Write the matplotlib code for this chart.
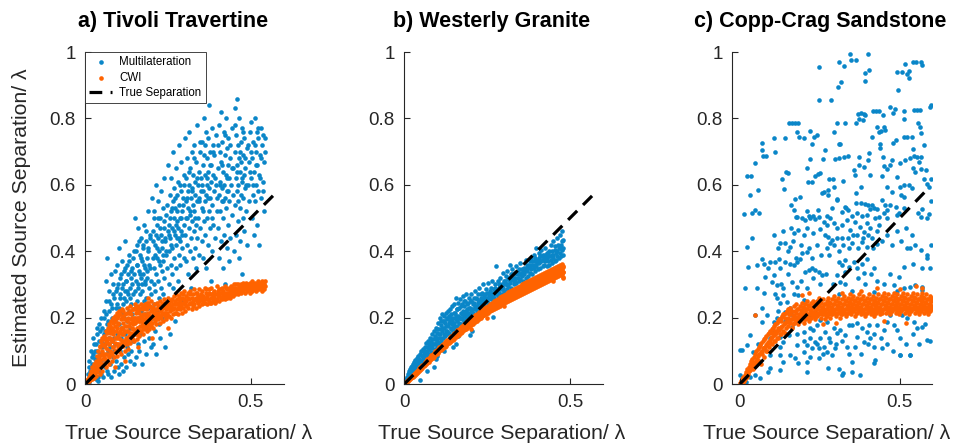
import numpy as np
import matplotlib
matplotlib.use('Agg')
import matplotlib.pyplot as plt

plt.rcParams['font.family'] = ['Liberation Sans', 'DejaVu Sans']

BLUE = '#0a86c8'
ORANGE = '#ff6300'
GREY = '#262626'

titles = ['a) Tivoli Travertine', 'b) Westerly Granite', 'c) Copp-Crag Sandstone']
series_names = ['Multilateration', 'CWI', 'True Separation']
xlabel = 'True Source Separation/ \u03bb'
ylabel = 'Estimated Source Separation/ \u03bb'
xticks = [0, 0.5]
xticklabels = ['0', '0.5']
yticks = [0, 0.2, 0.4, 0.6, 0.8, 1.0]
yticklabels = ['0', '0.2', '0.4', '0.6', '0.8', '1']
true_sep = [0, 0.58]

# (true, estimated) separations, Tivoli travertine
tivoli_multi = [
    (.005, .01), (.008, .03), (.012, .005), (.015, .04), (.018, .02), (.02, .06), (.022, .09), (.025, .03),
    (.027, .12), (.03, .05), (.031, .015), (.033, .08), (.035, .1), (.037, .02), (.038, .06), (.04, .13),
    (.041, .04), (.043, .09), (.045, .16), (.046, .07), (.048, .03), (.049, .11), (.01, .07), (.016, .1),
    (.024, .14), (.034, .17), (.044, .05), (.039, .01), (.028, .075), (.047, .13),
    (.052, .02), (.053, .09), (.055, .15), (.056, .2), (.058, .05), (.06, .12), (.061, .25), (.063, .07),
    (.064, .18), (.066, .38), (.067, .1), (.068, .03), (.07, .22), (.071, .14), (.072, .28), (.074, .06),
    (.075, .17), (.076, .11), (.078, .24), (.079, .02), (.08, .2), (.081, .13), (.083, .3), (.084, .08),
    (.085, .16), (.087, .26), (.088, .04), (.089, .19), (.09, .34), (.091, .12), (.093, .23), (.094, .07),
    (.095, .29), (.096, .15), (.098, .21), (.099, .05), (.062, .31), (.077, .33), (.086, .1), (.097, .36),
    (.101, .41), (.102, .03), (.103, .18), (.104, .26), (.105, .1), (.106, .32), (.107, .14), (.108, .22),
    (.109, .06), (.11, .37), (.111, .29), (.112, .17), (.113, .04), (.114, .24), (.115, .12), (.116, .34),
    (.117, .2), (.118, .08), (.119, .28), (.12, .43), (.121, .15), (.122, .31), (.123, .05), (.124, .25),
    (.125, .11), (.126, .36), (.127, .19), (.128, .27), (.129, .09), (.13, .33), (.131, .22), (.132, .14),
    (.133, .39), (.134, .07), (.135, .29), (.136, .17), (.137, .24), (.138, .32), (.139, .1), (.14, .21),
    (.142, .35), (.143, .13), (.145, .27), (.146, .4), (.148, .06), (.149, .23),
    (.151, .5), (.152, .16), (.153, .31), (.154, .08), (.155, .42), (.156, .25), (.157, .36), (.158, .12),
    (.159, .29), (.16, .47), (.161, .2), (.162, .34), (.163, .1), (.164, .39), (.165, .27), (.166, .15),
    (.167, .44), (.168, .32), (.169, .22), (.17, .06), (.171, .37), (.172, .28), (.173, .18), (.174, .41),
    (.175, .33), (.176, .13), (.177, .25), (.178, .48), (.179, .35), (.18, .21), (.181, .3), (.182, .09),
    (.183, .43), (.184, .26), (.185, .38), (.186, .17), (.187, .32), (.188, .52), (.189, .23), (.19, .4),
    (.192, .14), (.193, .29), (.195, .45), (.196, .35), (.198, .11), (.199, .27),
    (.201, .56), (.202, .2), (.203, .38), (.204, .12), (.205, .46), (.206, .3), (.207, .24), (.208, .52),
    (.209, .35), (.21, .16), (.211, .42), (.212, .28), (.213, .6), (.214, .33), (.215, .09), (.216, .48),
    (.217, .38), (.218, .22), (.219, .44), (.22, .31), (.221, .55), (.222, .18), (.223, .4), (.224, .26),
    (.225, .5), (.226, .36), (.227, .14), (.228, .45), (.229, .29), (.23, .58), (.231, .34), (.232, .41),
    (.233, .2), (.234, .53), (.235, .37), (.236, .27), (.237, .47), (.238, .32), (.239, .62), (.24, .43),
    (.242, .11), (.243, .39), (.245, .51), (.246, .24), (.248, .35), (.249, .46),
    (.251, .66), (.252, .3), (.253, .48), (.254, .4), (.255, .57), (.256, .15), (.257, .44), (.258, .36),
    (.259, .52), (.26, .62), (.261, .33), (.262, .47), (.263, .41), (.264, .7), (.265, .55), (.266, .29),
    (.267, .5), (.268, .38), (.269, .59), (.27, .45), (.271, .19), (.272, .53), (.273, .42), (.274, .65),
    (.275, .35), (.276, .49), (.277, .57), (.278, .44), (.279, .31), (.28, .61), (.281, .47), (.282, .39),
    (.283, .54), (.284, .72), (.285, .43), (.286, .5), (.287, .36), (.288, .58), (.289, .46), (.29, .67),
    (.291, .41), (.292, .52), (.294, .25), (.295, .56), (.297, .48), (.298, .63), (.299, .38),
    (.301, .74), (.302, .45), (.303, .55), (.304, .37), (.305, .62), (.306, .5), (.307, .42), (.308, .68),
    (.309, .58), (.31, .33), (.311, .53), (.312, .47), (.313, .76), (.314, .6), (.315, .4), (.316, .51),
    (.317, .65), (.318, .44), (.319, .56), (.32, .29), (.321, .7), (.322, .49), (.323, .59), (.324, .38),
    (.325, .54), (.326, .63), (.327, .46), (.328, .72), (.329, .52), (.33, .41), (.331, .61), (.332, .57),
    (.333, .35), (.334, .67), (.335, .48), (.336, .55), (.337, .44), (.338, .78), (.339, .6), (.34, .5),
    (.342, .64), (.343, .39), (.345, .56), (.346, .7), (.348, .47), (.349, .58),
    (.351, .62), (.352, .43), (.353, .73), (.354, .53), (.355, .66), (.356, .38), (.357, .58), (.358, .8),
    (.359, .49), (.36, .69), (.361, .55), (.362, .45), (.363, .63), (.364, .76), (.365, .35), (.366, .57),
    (.367, .68), (.368, .5), (.369, .6), (.37, .42), (.371, .74), (.372, .64), (.373, .52), (.374, .84),
    (.375, .59), (.376, .47), (.377, .7), (.378, .56), (.379, .31), (.38, .66), (.381, .61), (.382, .77),
    (.383, .4), (.384, .54), (.385, .72), (.386, .63), (.387, .48), (.388, .58), (.39, .69), (.392, .44),
    (.394, .75), (.396, .6), (.398, .52),
    (.401, .65), (.402, .47), (.403, .78), (.404, .57), (.405, .38), (.406, .7), (.407, .61), (.408, .52),
    (.409, .82), (.41, .67), (.411, .43), (.412, .59), (.413, .73), (.414, .55), (.415, .35), (.416, .64),
    (.417, .5), (.418, .76), (.419, .6), (.42, .45), (.421, .69), (.422, .56), (.423, .3), (.424, .63),
    (.425, .8), (.426, .53), (.427, .71), (.428, .41), (.429, .58), (.43, .66), (.431, .48), (.432, .74),
    (.433, .62), (.434, .37), (.435, .55), (.436, .68), (.438, .44), (.44, .6), (.442, .77), (.444, .51),
    (.446, .65), (.448, .4),
    (.451, .7), (.452, .54), (.453, .83), (.454, .62), (.455, .45), (.456, .75), (.457, .58), (.458, .86),
    (.459, .66), (.46, .49), (.461, .72), (.462, .6), (.463, .38), (.464, .68), (.465, .8), (.466, .53),
    (.467, .64), (.468, .43), (.469, .73), (.47, .57), (.471, .67), (.472, .33), (.473, .61), (.474, .77),
    (.475, .5), (.476, .69), (.477, .56), (.478, .63), (.479, .46), (.48, .74), (.482, .59), (.484, .65),
    (.486, .52), (.488, .71), (.49, .42), (.492, .6), (.494, .67), (.496, .55), (.498, .76),
    (.501, .62), (.502, .79), (.503, .5), (.505, .68), (.506, .57), (.508, .73), (.509, .45), (.51, .64),
    (.512, .8), (.513, .55), (.515, .7), (.516, .6), (.518, .76), (.519, .48), (.52, .66), (.522, .58),
    (.523, .74), (.525, .63), (.526, .42), (.528, .69), (.53, .77), (.532, .56), (.534, .72), (.536, .61),
    (.538, .75), (.54, .67), (.541, .52), (.543, .7),
    # denser core of the cloud
    (.012, .05), (.019, .08), (.023, .05), (.029, .1), (.032, .12), (.036, .15), (.042, .18), (.046, .2),
    (.05, .17), (.054, .12), (.057, .22), (.059, .16), (.062, .21), (.065, .04), (.069, .19), (.073, .25),
    (.077, .09), (.082, .23), (.085, .27), (.088, .14), (.092, .28), (.096, .24), (.099, .3),
    (.102, .23), (.106, .27), (.109, .33), (.112, .21), (.115, .3), (.118, .26), (.121, .35), (.124, .31),
    (.127, .28), (.131, .37), (.134, .26), (.137, .34), (.141, .3), (.144, .38), (.147, .33), (.15, .28),
    (.152, .4), (.155, .36), (.158, .3), (.161, .43), (.164, .33), (.167, .38), (.17, .3), (.173, .42),
    (.176, .36), (.179, .31), (.182, .46), (.185, .34), (.188, .41), (.191, .36), (.194, .44), (.197, .31),
    (.203, .43), (.206, .5), (.21, .39), (.213, .45), (.217, .41), (.22, .5), (.224, .37), (.227, .47),
    (.231, .43), (.234, .39), (.238, .49), (.241, .44), (.245, .4), (.248, .54), (.252, .45), (.256, .5),
    (.26, .42), (.263, .53), (.267, .46), (.27, .56), (.274, .48), (.278, .52), (.282, .44), (.285, .6),
    (.289, .5), (.293, .45), (.296, .54), (.299, .6),
    (.303, .5), (.308, .56), (.312, .64), (.317, .52), (.322, .58), (.327, .68), (.332, .5), (.337, .62),
    (.342, .55), (.347, .73), (.352, .6), (.357, .52), (.362, .72), (.367, .62), (.372, .56), (.377, .66),
    (.382, .5), (.387, .7), (.392, .62), (.397, .56), (.402, .72), (.407, .6), (.412, .66), (.417, .55),
    (.422, .75), (.427, .62), (.432, .58), (.437, .72), (.442, .65), (.447, .57), (.452, .78), (.457, .64),
    (.462, .55), (.467, .7), (.472, .62), (.477, .76), (.482, .68), (.487, .6), (.492, .72), (.497, .64),
    (.502, .7), (.507, .6), (.512, .72), (.517, .66), (.522, .77), (.527, .62), (.532, .68), (.537, .58),
    (.542, .74),
]

tivoli_cwi = [
    (.002, .003), (.004, .008), (.006, .002), (.006, .012), (.009, .015), (.009, .005), (.011, .02), (.011, .009),
    (.013, .025), (.015, .012), (.015, .03), (.017, .022), (.017, .04), (.019, .015), (.021, .035), (.021, .05),
    (.023, .026), (.025, .045), (.025, .018), (.027, .06), (.027, .033), (.029, .04), (.031, .07), (.031, .025),
    (.033, .052), (.035, .085), (.035, .036), (.037, .063), (.039, .1), (.039, .045), (.041, .074), (.043, .03),
    (.043, .115), (.045, .088), (.047, .055), (.047, .13), (.049, .1), (.051, .04), (.051, .14), (.053, .075),
    (.055, .118), (.055, .06), (.057, .145), (.059, .09), (.061, .05), (.061, .16), (.063, .128), (.065, .07),
    (.065, .105), (.067, .17), (.069, .14), (.071, .085), (.071, .06), (.073, .18), (.073, .12), (.075, .155),
    (.077, .095), (.079, .19), (.079, .135), (.081, .07), (.081, .165), (.083, .11), (.085, .2), (.085, .15),
    (.087, .08), (.089, .175), (.089, .125), (.091, .205), (.093, .1), (.093, .16), (.095, .14), (.097, .215),
    (.097, .085), (.099, .185), (.099, .12), (.101, .155), (.103, .22), (.103, .1), (.105, .135), (.107, .195),
    (.107, .17), (.109, .09), (.111, .225), (.111, .15), (.113, .115), (.115, .185), (.115, .205), (.117, .13),
    (.117, .16), (.119, .1), (.121, .21), (.121, .175), (.123, .14), (.125, .23), (.125, .12), (.127, .19),
    (.127, .16), (.129, .105), (.131, .215), (.131, .145), (.133, .175), (.135, .235), (.135, .125), (.137, .195),
    (.139, .155), (.139, .21), (.141, .135), (.143, .18), (.143, .225), (.145, .165), (.147, .2), (.147, .13),
    (.149, .24), (.151, .15), (.151, .185), (.153, .215), (.155, .17), (.155, .135), (.157, .2), (.159, .23),
    (.159, .155), (.161, .19), (.163, .145), (.163, .215), (.165, .175), (.167, .205), (.167, .24), (.169, .16),
    (.171, .19), (.173, .225), (.173, .15), (.175, .18), (.175, .21), (.177, .165), (.179, .235), (.179, .195),
    (.181, .17), (.183, .205), (.183, .225), (.185, .16), (.185, .19), (.187, .245), (.189, .18), (.189, .215),
    (.191, .2), (.193, .165), (.193, .235), (.195, .19), (.197, .22), (.197, .175), (.199, .205), (.199, .25),
    (.202, .185), (.202, .23), (.205, .2), (.205, .17), (.208, .24), (.208, .215), (.211, .19), (.211, .225),
    (.214, .205), (.214, .18), (.217, .245), (.217, .225), (.22, .195), (.22, .215), (.223, .235), (.223, .205),
    (.226, .185), (.226, .25), (.229, .22), (.229, .2), (.232, .24), (.232, .21), (.235, .19), (.235, .23),
    (.238, .255), (.238, .215), (.241, .205), (.241, .235), (.244, .225), (.244, .195), (.247, .245), (.247, .215),
    (.25, .23), (.25, .26), (.253, .205), (.253, .24), (.256, .22), (.256, .25), (.259, .2), (.259, .235),
    (.262, .255), (.262, .225), (.265, .24), (.265, .21), (.268, .265), (.268, .23), (.271, .215), (.271, .25),
    (.274, .24), (.274, .27), (.277, .225), (.277, .255), (.28, .21), (.28, .245), (.283, .265), (.283, .235),
    (.286, .25), (.286, .225), (.289, .275), (.289, .24), (.292, .215), (.292, .26), (.295, .245), (.295, .23),
    (.298, .28), (.298, .255), (.301, .24), (.301, .22), (.305, .265), (.305, .25), (.309, .23), (.309, .275),
    (.313, .255), (.313, .24), (.317, .28), (.317, .245), (.321, .225), (.321, .26), (.325, .27), (.325, .25),
    (.329, .24), (.329, .285), (.333, .26), (.333, .23), (.337, .275), (.337, .25), (.341, .245), (.341, .265),
    (.345, .285), (.345, .235), (.349, .255), (.349, .27), (.353, .24), (.353, .28), (.357, .265), (.357, .25),
    (.361, .29), (.361, .245), (.365, .255), (.365, .275), (.369, .24), (.369, .265), (.373, .285), (.373, .25),
    (.377, .27), (.377, .245), (.381, .26), (.381, .29), (.385, .25), (.385, .275), (.389, .28), (.389, .26),
    (.393, .245), (.393, .27), (.397, .295), (.397, .255), (.401, .265), (.401, .28), (.405, .25), (.405, .285),
    (.409, .275), (.409, .26), (.413, .29), (.413, .255), (.417, .265), (.417, .28), (.421, .255), (.421, .295),
    (.425, .275), (.425, .265), (.429, .285), (.429, .26), (.433, .27), (.433, .29), (.437, .26), (.437, .28),
    (.441, .295), (.441, .27), (.445, .265), (.445, .285), (.449, .28), (.449, .3), (.453, .27), (.453, .29),
    (.457, .285), (.457, .275), (.461, .3), (.461, .27), (.465, .28), (.465, .29), (.469, .275), (.469, .3),
    (.473, .29), (.473, .28), (.477, .305), (.477, .285), (.481, .275), (.481, .295), (.485, .29), (.485, .305),
    (.489, .28), (.489, .3), (.493, .295), (.493, .285), (.497, .305), (.497, .275), (.501, .29), (.501, .3),
    (.505, .28), (.505, .31), (.509, .295), (.509, .285), (.513, .305), (.513, .29), (.517, .28), (.517, .3),
    (.521, .295), (.521, .31), (.525, .285), (.525, .305), (.529, .3), (.529, .29), (.533, .31), (.533, .28),
    (.537, .295), (.537, .305), (.541, .285), (.541, .3), (.544, .31), (.544, .295),
    (.09, .05), (.12, .07), (.16, .11), (.2, .14), (.25, .17), (.19, .26),
    # fill of the band
    (.02, .03), (.025, .04), (.03, .045), (.03, .06), (.035, .055), (.04, .05), (.04, .08), (.045, .07),
    (.045, .11), (.05, .06), (.05, .09), (.05, .12), (.055, .08), (.055, .135), (.06, .075), (.06, .11),
    (.06, .14), (.065, .09), (.065, .13), (.065, .155), (.07, .08), (.07, .12), (.07, .16), (.075, .1),
    (.075, .14), (.075, .175), (.08, .09), (.08, .13), (.08, .17), (.085, .11), (.085, .16), (.085, .185),
    (.09, .1), (.09, .14), (.09, .19), (.095, .12), (.095, .17), (.095, .2), (.1, .11), (.1, .145),
    (.1, .18), (.1, .205), (.105, .12), (.105, .16), (.105, .21), (.11, .13), (.11, .17), (.11, .2),
    (.115, .12), (.115, .15), (.115, .22), (.12, .13), (.12, .16), (.12, .195), (.125, .14), (.125, .175),
    (.125, .215), (.13, .13), (.13, .16), (.13, .2), (.135, .15), (.135, .185), (.135, .22), (.14, .14),
    (.14, .17), (.14, .2), (.145, .15), (.145, .19), (.145, .225), (.15, .16), (.15, .2), (.15, .23),
    (.155, .15), (.155, .19), (.155, .22), (.16, .17), (.16, .2), (.16, .235), (.165, .16), (.165, .19),
    (.165, .225), (.17, .175), (.17, .2), (.17, .23), (.175, .17), (.175, .195), (.175, .235), (.18, .18),
    (.18, .21), (.18, .24), (.185, .175), (.185, .2), (.185, .23), (.19, .185), (.19, .21), (.19, .245),
    (.195, .18), (.195, .205), (.195, .235),
    (.2, .22), (.205, .23), (.21, .2), (.215, .215), (.22, .235), (.225, .205), (.23, .225), (.235, .245),
    (.24, .215), (.245, .235), (.25, .205), (.255, .23), (.26, .25), (.265, .225), (.27, .24), (.275, .215),
    (.28, .23), (.285, .255), (.29, .235), (.295, .27), (.3, .25), (.305, .235), (.31, .26), (.315, .27),
    (.32, .245), (.325, .235), (.33, .255), (.335, .275), (.34, .255), (.345, .25), (.35, .265), (.355, .245),
    (.36, .26), (.365, .285), (.37, .255), (.375, .275), (.38, .245), (.385, .265), (.39, .27), (.395, .25),
    (.4, .275), (.405, .265), (.41, .285), (.415, .27), (.42, .265), (.425, .29), (.43, .275), (.435, .265),
    (.44, .28), (.445, .29), (.45, .275), (.455, .3), (.46, .28), (.465, .295), (.47, .285), (.475, .295),
    (.48, .285), (.485, .3), (.49, .29), (.495, .295), (.5, .28), (.505, .295), (.51, .3), (.515, .295),
    (.52, .285), (.525, .295), (.53, .3), (.535, .29), (.54, .295),
]

# Westerly granite
westerly_multi = [
    (.003, .006), (.006, .015), (.006, .004), (.009, .02), (.012, .03), (.012, .012), (.015, .025), (.015, .04),
    (.018, .045), (.018, .02), (.021, .035), (.021, .05), (.024, .055), (.024, .028), (.027, .045), (.027, .06),
    (.03, .065), (.03, .035), (.033, .05), (.033, .072), (.036, .06), (.036, .04), (.039, .078), (.039, .052),
    (.042, .065), (.042, .085), (.045, .05), (.045, .075), (.048, .09), (.048, .062), (.051, .07), (.051, .1),
    (.054, .083), (.054, .058), (.057, .105), (.057, .075), (.06, .09), (.06, .065), (.063, .112), (.063, .08),
    (.066, .097), (.066, .125), (.069, .075), (.069, .11), (.072, .13), (.072, .09), (.075, .105), (.075, .082),
    (.078, .14), (.078, .118), (.081, .095), (.081, .128), (.084, .15), (.084, .108), (.087, .12), (.087, .092),
    (.09, .16), (.09, .135), (.093, .105), (.093, .145), (.096, .17), (.096, .125), (.099, .115), (.099, .155),
    (.102, .185), (.102, .14), (.105, .125), (.105, .165), (.108, .2), (.108, .15), (.111, .13), (.111, .178),
    (.114, .16), (.114, .21), (.117, .14), (.117, .19), (.12, .205), (.12, .168), (.123, .145), (.123, .185),
    (.126, .215), (.126, .16), (.129, .195), (.129, .15), (.132, .175), (.132, .22), (.135, .155), (.135, .205),
    (.138, .19), (.138, .225), (.141, .165), (.141, .21), (.144, .235), (.144, .18), (.147, .16), (.147, .2),
    (.15, .24), (.15, .185), (.153, .215), (.153, .17), (.156, .26), (.156, .195), (.159, .175), (.159, .225),
    (.162, .205), (.162, .245), (.165, .185), (.165, .23), (.168, .255), (.168, .2), (.171, .18), (.171, .215),
    (.174, .24), (.174, .195), (.177, .265), (.177, .22), (.18, .19), (.18, .235), (.183, .21), (.183, .25),
    (.186, .2), (.186, .27), (.189, .225), (.189, .195), (.192, .245), (.192, .215), (.195, .26), (.195, .205),
    (.198, .23), (.198, .21), (.202, .27), (.202, .25), (.206, .215), (.206, .24), (.21, .26), (.21, .225),
    (.214, .28), (.214, .235), (.218, .22), (.218, .255), (.222, .245), (.222, .27), (.226, .23), (.226, .29),
    (.23, .26), (.23, .24), (.234, .275), (.234, .235), (.238, .25), (.238, .3), (.242, .24), (.242, .265),
    (.246, .285), (.246, .25), (.25, .26), (.25, .275), (.254, .305), (.254, .245), (.258, .27), (.258, .26),
    (.262, .29), (.262, .255), (.266, .275), (.266, .31), (.27, .26), (.27, .285), (.274, .3), (.274, .27),
    (.278, .355), (.278, .28), (.282, .265), (.282, .31), (.286, .29), (.286, .275), (.29, .32), (.29, .285),
    (.294, .3), (.294, .27), (.298, .335), (.298, .29), (.302, .28), (.302, .31), (.306, .3), (.306, .325),
    (.31, .285), (.31, .34), (.314, .315), (.314, .295), (.318, .36), (.318, .305), (.322, .29), (.322, .33),
    (.326, .315), (.326, .345), (.33, .3), (.33, .32), (.334, .335), (.334, .31), (.338, .355), (.338, .305),
    (.342, .32), (.342, .34), (.346, .31), (.346, .33), (.35, .365), (.35, .315), (.354, .325), (.354, .345),
    (.358, .31), (.358, .34), (.362, .35), (.362, .33), (.366, .375), (.366, .32), (.37, .34), (.37, .36),
    (.374, .325), (.374, .35), (.378, .37), (.378, .335), (.382, .345), (.382, .38), (.386, .33), (.386, .36),
    (.39, .39), (.39, .35), (.394, .34), (.394, .37), (.398, .41), (.398, .355), (.402, .345), (.402, .375),
    (.406, .365), (.406, .395), (.41, .35), (.41, .385), (.414, .37), (.414, .405), (.418, .355), (.418, .39),
    (.422, .38), (.422, .36), (.426, .41), (.426, .37), (.43, .355), (.43, .395), (.434, .385), (.434, .37),
    (.438, .4), (.438, .36), (.442, .375), (.442, .42), (.446, .39), (.446, .365), (.45, .43), (.45, .38),
    (.454, .37), (.454, .405), (.458, .395), (.458, .375), (.462, .44), (.462, .385), (.466, .38), (.466, .41),
    (.47, .45), (.47, .395), (.474, .385), (.474, .42), (.477, .46), (.477, .405), (.48, .435), (.48, .39),
    (.047, .012), (.09, .052), (.095, .075), (.1, .085), (.148, .112), (.155, .12), (.163, .145), (.198, .148),
    (.205, .16), (.269, .203), (.309, .258), (.12, .1), (.07, .04),
    # fill of the wedge
    (.015, .032), (.025, .042), (.035, .052), (.045, .064), (.055, .07), (.06, .1), (.065, .085), (.07, .1),
    (.075, .12), (.08, .11), (.085, .135), (.09, .12), (.095, .14), (.1, .13), (.1, .165), (.105, .15),
    (.11, .14), (.11, .19), (.115, .17), (.12, .15), (.12, .19), (.125, .175), (.13, .16), (.13, .2),
    (.135, .185), (.14, .17), (.14, .2), (.145, .19), (.15, .175), (.15, .215), (.155, .205), (.16, .19),
    (.16, .225), (.165, .2), (.17, .2), (.17, .235), (.175, .21), (.18, .205), (.18, .25), (.185, .22),
    (.19, .21), (.19, .24), (.195, .23), (.2, .22), (.2, .25), (.205, .225), (.21, .245), (.215, .23),
    (.215, .26), (.22, .235), (.225, .25), (.23, .245), (.23, .27), (.235, .25), (.24, .255), (.245, .27),
    (.25, .25), (.255, .265), (.26, .28), (.265, .265), (.27, .275), (.275, .29), (.28, .28), (.285, .3),
    (.29, .295), (.295, .285), (.3, .3), (.305, .31), (.31, .3), (.315, .32), (.32, .31), (.325, .33),
    (.33, .31), (.335, .32), (.34, .33), (.345, .345), (.35, .33), (.355, .335), (.36, .345), (.365, .34),
    (.37, .35), (.375, .36), (.38, .355), (.385, .37), (.39, .36), (.395, .38), (.4, .365), (.405, .38),
    (.41, .37), (.415, .385), (.42, .375), (.425, .39), (.43, .38), (.435, .395), (.44, .385), (.445, .4),
    (.45, .39), (.455, .415), (.46, .4), (.465, .42), (.47, .41), (.475, .43), (.48, .41),
]

westerly_cwi = [
    (.002, .002), (.005, .006), (.005, .003), (.008, .009), (.008, .005), (.011, .012), (.011, .008), (.014, .015),
    (.014, .011), (.017, .018), (.017, .014), (.02, .022), (.02, .017), (.023, .025), (.023, .02), (.026, .028),
    (.026, .022), (.029, .031), (.029, .025), (.032, .034), (.032, .028), (.035, .037), (.035, .031), (.038, .04),
    (.038, .034), (.041, .043), (.041, .036), (.044, .047), (.044, .039), (.047, .05), (.047, .042), (.05, .053),
    (.05, .045), (.054, .057), (.054, .049), (.058, .061), (.058, .053), (.062, .066), (.062, .056), (.066, .07),
    (.066, .06), (.07, .074), (.07, .064), (.074, .078), (.074, .067), (.078, .082), (.078, .071), (.082, .086),
    (.082, .075), (.086, .09), (.086, .079), (.09, .094), (.09, .082), (.094, .098), (.094, .086), (.098, .102),
    (.098, .09), (.102, .106), (.102, .094), (.106, .11), (.106, .098), (.11, .114), (.11, .101), (.114, .118),
    (.114, .105), (.118, .122), (.118, .109), (.122, .126), (.122, .112), (.126, .13), (.126, .116), (.13, .134),
    (.13, .12), (.134, .137), (.134, .123), (.138, .141), (.138, .127), (.142, .145), (.142, .13), (.146, .149),
    (.146, .134), (.15, .153), (.15, .137),
    (.155, .158), (.155, .149), (.155, .141), (.16, .163), (.16, .154), (.16, .145), (.165, .167), (.165, .158),
    (.165, .149), (.17, .172), (.17, .163), (.17, .154), (.175, .176), (.175, .167), (.175, .158), (.18, .181),
    (.18, .172), (.18, .162), (.185, .185), (.185, .176), (.185, .166), (.19, .189), (.19, .18), (.19, .17),
    (.195, .193), (.195, .184), (.195, .174), (.2, .197), (.2, .188), (.2, .178), (.206, .202), (.206, .192),
    (.206, .182), (.212, .207), (.212, .197), (.212, .187), (.218, .211), (.218, .201), (.218, .191), (.224, .216),
    (.224, .206), (.224, .196), (.23, .22), (.23, .21), (.23, .2), (.236, .224), (.236, .214), (.236, .204),
    (.242, .228), (.242, .218), (.242, .207), (.248, .232), (.248, .222), (.248, .211), (.254, .236), (.254, .226),
    (.254, .215), (.26, .241), (.26, .23), (.26, .219), (.266, .245), (.266, .234), (.266, .222), (.272, .249),
    (.272, .237), (.272, .226), (.278, .253), (.278, .241), (.278, .229), (.284, .257), (.284, .245), (.284, .233),
    (.29, .261), (.29, .249), (.29, .236), (.296, .265), (.296, .252), (.296, .24), (.302, .269), (.302, .256),
    (.302, .243), (.308, .272), (.308, .259), (.308, .246), (.314, .276), (.314, .263), (.314, .25), (.32, .279),
    (.32, .266), (.32, .253), (.326, .283), (.326, .269), (.326, .256), (.332, .286), (.332, .272), (.332, .259),
    (.338, .29), (.338, .276), (.338, .262), (.344, .293), (.344, .279), (.344, .265), (.35, .296), (.35, .282),
    (.35, .268), (.356, .3), (.356, .285), (.356, .271), (.362, .303), (.362, .288), (.362, .274), (.368, .306),
    (.368, .291), (.368, .277), (.374, .309), (.374, .294), (.374, .28), (.38, .313), (.38, .298), (.38, .283),
    (.386, .316), (.386, .301), (.386, .286), (.392, .319), (.392, .304), (.392, .289), (.398, .322), (.398, .307),
    (.398, .292), (.404, .325), (.404, .31), (.404, .295), (.41, .328), (.41, .312), (.41, .297), (.416, .331),
    (.416, .315), (.416, .3), (.422, .334), (.422, .318), (.422, .303), (.428, .337), (.428, .321), (.428, .306),
    (.434, .34), (.434, .324), (.434, .309), (.44, .343), (.44, .327), (.44, .312), (.446, .346), (.446, .33),
    (.446, .315), (.452, .349), (.452, .333), (.452, .318), (.458, .352), (.458, .336), (.458, .321), (.464, .355),
    (.464, .339), (.464, .324), (.47, .358), (.47, .342), (.47, .327), (.476, .361), (.476, .345), (.476, .33),
    (.48, .355), (.48, .338), (.48, .322),
    (.2, .165), (.3, .235), (.25, .2), (.45, .31), (.478, .318),
    (.158, .154), (.158, .145), (.163, .159), (.163, .15), (.168, .163), (.168, .154), (.173, .168), (.173, .159),
    (.178, .172), (.178, .163), (.183, .177), (.183, .167), (.188, .181), (.188, .171), (.193, .185), (.193, .175),
    (.198, .189), (.198, .179), (.203, .193), (.203, .183), (.209, .197), (.209, .187), (.215, .202), (.215, .192),
    (.221, .206), (.221, .196), (.227, .211), (.227, .201), (.233, .215), (.233, .205), (.239, .219), (.239, .209),
    (.245, .223), (.245, .213), (.251, .227), (.251, .216), (.257, .231), (.257, .22), (.263, .235), (.263, .224),
    (.269, .239), (.269, .228), (.275, .243), (.275, .231), (.281, .247), (.281, .235), (.287, .251), (.287, .239),
    (.293, .255), (.293, .242), (.299, .258), (.299, .246), (.305, .262), (.305, .249), (.311, .265), (.311, .252),
    (.317, .269), (.317, .256), (.323, .272), (.323, .259), (.329, .276), (.329, .262), (.335, .279), (.335, .265),
    (.341, .283), (.341, .269), (.347, .286), (.347, .272), (.353, .289), (.353, .275), (.359, .292), (.359, .278),
    (.365, .295), (.365, .281), (.371, .298), (.371, .284), (.377, .301), (.377, .287), (.383, .305), (.383, .29),
    (.389, .308), (.389, .293), (.395, .311), (.395, .296), (.401, .314), (.401, .299), (.407, .317), (.407, .302),
    (.413, .32), (.413, .304), (.419, .323), (.419, .307), (.425, .326), (.425, .31), (.431, .329), (.431, .313),
    (.437, .332), (.437, .316), (.443, .335), (.443, .319), (.449, .338), (.449, .322), (.455, .341), (.455, .325),
    (.461, .344), (.461, .328), (.467, .347), (.467, .331), (.473, .35), (.473, .334), (.478, .353), (.478, .337),
]

# Copp-Crag sandstone
copp_multi = [
    (.014, .512), (.032, .569), (.037, .514), (.047, .524), (.061, .516), (.023, .628), (.034, .628), (.048, .665),
    (.056, .584), (.068, .725), (.068, .705), (.071, .688), (.082, .688), (.108, .742), (.11, .7), (.131, .619),
    (.138, .586), (.141, .742), (.149, .635), (.154, .787), (.163, .787), (.173, .787), (.182, .787), (.18, .76),
    (.186, .743), (.201, .74), (.218, .761), (.225, .723), (.22, .678), (.211, .651), (.214, .609), (.224, .609),
    (.235, .627), (.243, .632), (.249, .637), (.248, .954), (.248, .855), (.285, .855), (.26, .677), (.265, .705),
    (.256, .576), (.262, .579), (.274, .584), (.274, .569), (.279, .619), (.29, .619), (.293, .594), (.305, .554),
    (.297, .679), (.31, .682), (.311, .723), (.314, .723), (.327, .685), (.338, .687), (.324, .611), (.33, .534),
    (.333, .529), (.31, .97), (.326, .959), (.345, .993), (.348, .976), (.362, .976), (.402, .993), (.391, .938),
    (.404, .946), (.392, .914), (.307, .896), (.317, .911), (.304, .787), (.328, .785), (.364, .785), (.37, .813),
    (.379, .815), (.387, .813), (.39, .81), (.374, .797), (.384, .795), (.371, .685), (.358, .645), (.359, .63),
    (.379, .592), (.364, .574), (.362, .544), (.38, .544), (.392, .542), (.402, .538), (.408, .526), (.406, .63),
    (.401, .675), (.404, .695), (.413, .743), (.416, .822), (.425, .822), (.434, .822), (.43, .773), (.434, .76),
    (.441, .762), (.447, .81), (.452, .775), (.455, .765), (.437, .723), (.439, .71), (.448, .683), (.45, .657),
    (.443, .627), (.46, .647), (.469, .659), (.476, .675), (.469, .833), (.479, .815), (.485, .829), (.49, .94),
    (.496, .886), (.507, .941), (.512, .822), (.516, .963), (.523, .933), (.528, .923), (.528, .943), (.542, .97),
    (.552, .97), (.567, .97), (.57, .961), (.544, .825), (.554, .825), (.563, .825), (.512, .797), (.513, .743),
    (.523, .743), (.539, .743), (.542, .708), (.544, .687), (.554, .683), (.559, .668), (.565, .685), (.568, .755),
    (.577, .72), (.583, .645), (.592, .592), (.596, .835), (.557, .787), (.563, .775), (.489, .735), (.479, .727),
    (.492, .625), (.502, .594), (.512, .599), (.504, .569), (.489, .534), (.497, .514), (.512, .529), (.502, .665),
    (.518, .675), (.531, .68), (.542, .651), (.549, .64), (.565, .647), (.575, .619), (.586, .604), (.592, .511),
    (.57, .527), (.556, .514), (.539, .589), (.528, .599), (.512, .564), (.471, .539), (.46, .524), (.45, .514),
    (.429, .526), (.418, .529), (.434, .504), (.413, .539), (.397, .509), (.382, .506), (.366, .516), (.35, .506),
    (.337, .524), (.319, .519), (.303, .557), (.288, .529), (.272, .506), (.243, .524), (.23, .507), (.209, .52),
    (.215, .507), (.188, .564), (.173, .557), (.168, .524), (.16, .539), (.175, .502), (.144, .638), (.232, .745),
    (.241, .75), (.293, .76), (.445, .554), (.455, .539), (.476, .579), (.46, .594), (.387, .655), (.371, .66),
    (.178, .504), (.194, .499), (.204, .494), (.22, .501), (.235, .497), (.246, .504), (.262, .489), (.272, .479),
    (.283, .499), (.293, .484), (.303, .469), (.319, .479), (.335, .494), (.345, .464), (.361, .489), (.377, .474),
    (.387, .459), (.397, .484), (.408, .469), (.424, .499), (.434, .479), (.16, .469), (.168, .454), (.183, .464),
    (.209, .469), (.23, .454), (.251, .467), (.277, .444), (.288, .434), (.303, .441), (.324, .419), (.337, .439),
    (.35, .424), (.366, .449), (.382, .429), (.397, .414), (.413, .439), (.429, .421), (.283, .424), (.272, .409),
    (.565, .504), (.586, .499), (.533, .409), (.549, .419), (.565, .404), (.586, .379), (.512, .353), (.523, .409),
    (.542, .363), (.57, .348), (.021, .414), (.037, .439), (.539, .449), (.492, .509), (.46, .499),
    (.026, .353), (.053, .358), (.068, .378), (.074, .363), (.089, .348), (.094, .368), (.11, .368), (.121, .378),
    (.126, .348), (.141, .368), (.157, .363), (.168, .358), (.178, .368), (.188, .378), (.194, .394), (.204, .338),
    (.215, .343), (.225, .348), (.235, .343), (.246, .338), (.256, .328), (.209, .399), (.126, .424), (.141, .424),
    (.157, .414), (.105, .328), (.1, .308), (.115, .298), (.136, .288), (.162, .308), (.178, .293), (.079, .323),
    (.074, .273), (.053, .288), (.016, .288), (.309, .368), (.319, .358), (.33, .373), (.34, .353), (.356, .368),
    (.366, .348), (.382, .363), (.397, .378), (.418, .348), (.387, .333), (.303, .328), (.314, .308), (.33, .338),
    (.481, .298), (.497, .323), (.512, .288), (.533, .293), (.549, .298), (.57, .293), (.586, .389), (.596, .348),
    (.57, .283), (.418, .278),
    (.115, .258), (.126, .243), (.136, .268), (.147, .248), (.141, .218), (.157, .228), (.183, .268), (.199, .253),
    (.194, .208), (.178, .188), (.162, .173), (.152, .148), (.136, .128), (.126, .143), (.105, .158), (.094, .138),
    (.074, .107), (.058, .122), (.042, .097), (.068, .188), (.032, .148), (.021, .117), (.006, .102), (.0, .027),
    (.016, .017), (.032, .022), (.047, .027), (.063, .017), (.089, .037), (.094, .047), (.126, .042), (.136, .067),
    (.157, .087), (.173, .077), (.183, .062), (.199, .097), (.209, .117), (.225, .107), (.235, .128), (.246, .107),
    (.251, .138), (.262, .112), (.272, .097), (.283, .128), (.288, .087), (.298, .107), (.303, .153), (.314, .163),
    (.33, .148), (.34, .178), (.293, .168), (.267, .158), (.23, .163), (.22, .168), (.241, .178), (.199, .158),
    (.209, .067), (.22, .082), (.246, .077), (.277, .047), (.309, .045), (.319, .027), (.324, .032), (.35, .067),
    (.377, .027), (.35, .037), (.397, .158), (.408, .138), (.418, .112), (.424, .072), (.418, .062), (.403, .178),
    (.429, .178), (.45, .163), (.46, .188), (.471, .208), (.481, .178), (.492, .163), (.507, .208), (.523, .198),
    (.544, .188), (.554, .168), (.57, .173), (.586, .133), (.533, .087), (.502, .087), (.444, .107), (.382, .168),
    (.366, .183), (.35, .178), (.22, .203), (.251, .193), (.235, .218), (.272, .188), (.115, .198), (.105, .188),
    (.084, .208), (.068, .228), (.047, .208), (.094, .087), (.126, .112), (.178, .117), (.209, .037), (.126, .087),
    (.335, .112), (.366, .143), (.387, .128), (.0, .102), (.595, .13), (.501, .087), (.531, .087), (.008, .012),
    (.018, .005), (.598, .84), (.598, .617), (.598, .42), (.598, .55),
    (.105, .45), (.12, .41), (.135, .46), (.15, .4), (.165, .43), (.175, .38), (.19, .42), (.2, .45),
    (.215, .41), (.225, .38), (.24, .42), (.255, .39), (.265, .45), (.28, .39), (.295, .42), (.31, .4),
    (.32, .44), (.34, .41), (.355, .45), (.37, .41), (.385, .44), (.4, .45), (.415, .41), (.43, .46),
    (.445, .43), (.46, .45), (.475, .42), (.49, .46), (.505, .43), (.52, .47), (.11, .27), (.13, .3),
    (.15, .33), (.17, .27), (.19, .31), (.21, .29), (.23, .32), (.25, .3), (.27, .33), (.29, .3),
    (.31, .27), (.33, .3), (.35, .28), (.37, .32), (.39, .3), (.41, .33), (.43, .31), (.45, .3),
    (.47, .33), (.49, .28), (.12, .22), (.14, .19), (.16, .21), (.18, .15), (.2, .13), (.22, .14),
    (.24, .12), (.26, .09), (.28, .14), (.3, .12), (.32, .13), (.34, .09), (.36, .11), (.38, .09),
    (.4, .12), (.42, .15), (.44, .14), (.46, .12), (.48, .1), (.5, .14), (.52, .12), (.54, .15),
    (.56, .12), (.58, .18),
]

copp_cwi = [
    (.001, .003), (.003, .008), (.005, .002), (.007, .015), (.009, .006), (.011, .02), (.013, .01), (.015, .028),
    (.017, .016), (.019, .035), (.021, .022), (.023, .045), (.025, .03), (.027, .052), (.029, .038), (.031, .06),
    (.033, .043), (.035, .068), (.037, .05), (.039, .075), (.041, .058), (.043, .082), (.045, .064), (.047, .09),
    (.049, .07), (.051, .1), (.053, .076), (.055, .105), (.057, .085), (.059, .112), (.061, .09), (.063, .118),
    (.065, .095), (.067, .125), (.069, .1), (.071, .13), (.073, .108), (.075, .135), (.077, .112), (.079, .14),
    (.081, .118), (.083, .146), (.085, .122), (.087, .15), (.089, .128), (.091, .155), (.093, .132), (.095, .16),
    (.097, .138), (.099, .165), (.101, .142), (.103, .17), (.105, .147), (.107, .175), (.109, .15), (.111, .18),
    (.113, .155), (.115, .185), (.117, .16), (.119, .19), (.121, .163), (.123, .195), (.125, .168), (.127, .2),
    (.129, .172), (.131, .205), (.133, .176), (.135, .21), (.137, .18), (.139, .212), (.141, .183), (.143, .215),
    (.145, .186), (.147, .22), (.149, .19),
    (.06, .07), (.08, .1), (.1, .12), (.12, .14), (.14, .155), (.05, .06), (.09, .11), (.11, .13), (.13, .15),
    (.02, .03), (.04, .045), (.06, .065), (.07, .09), (.085, .1), (.095, .125), (.105, .13), (.115, .14),
    (.125, .15), (.135, .16), (.145, .17), (.065, .06), (.075, .08), (.04, .065), (.03, .05), (.11, .16),
    (.12, .17), (.13, .19), (.14, .2), (.1, .155),
    (.151, .2), (.151, .175), (.151, .225), (.157, .185), (.157, .21), (.157, .23), (.163, .195), (.163, .17),
    (.163, .22), (.169, .205), (.169, .235), (.169, .185), (.175, .19), (.175, .215), (.175, .24), (.181, .2),
    (.181, .225), (.181, .18), (.187, .21), (.187, .235), (.187, .19), (.193, .195), (.193, .22), (.193, .245),
    (.199, .205), (.199, .23), (.199, .185), (.205, .215), (.205, .24), (.205, .195), (.211, .2), (.211, .225),
    (.211, .25), (.217, .21), (.217, .235), (.217, .19), (.223, .22), (.223, .245), (.223, .2), (.229, .205),
    (.229, .23), (.229, .25), (.235, .215), (.235, .24), (.235, .195), (.241, .225), (.241, .25), (.241, .205),
    (.247, .21), (.247, .235), (.247, .26), (.253, .22), (.253, .245), (.253, .2), (.259, .23), (.259, .255),
    (.259, .21), (.265, .215), (.265, .24), (.265, .195), (.271, .225), (.271, .25), (.271, .205), (.277, .235),
    (.277, .26), (.277, .21), (.283, .22), (.283, .245), (.283, .2), (.289, .23), (.289, .255), (.289, .21),
    (.295, .215), (.295, .24), (.295, .265), (.301, .225), (.301, .25), (.301, .205), (.307, .235), (.307, .26),
    (.307, .215), (.313, .22), (.313, .245), (.313, .2), (.319, .23), (.319, .255), (.319, .21), (.325, .24),
    (.325, .265), (.325, .215), (.331, .225), (.331, .25), (.331, .205), (.337, .235), (.337, .26), (.337, .215),
    (.343, .22), (.343, .245), (.343, .27), (.349, .23), (.349, .255), (.349, .21), (.355, .24), (.355, .265),
    (.355, .22), (.361, .225), (.361, .25), (.361, .205), (.367, .235), (.367, .26), (.367, .215), (.373, .245),
    (.373, .27), (.373, .22), (.379, .23), (.379, .255), (.379, .21), (.385, .24), (.385, .265), (.385, .215),
    (.391, .225), (.391, .25), (.391, .205), (.397, .235), (.397, .26), (.397, .215), (.403, .245), (.403, .27),
    (.403, .22), (.409, .23), (.409, .255), (.409, .21), (.415, .24), (.415, .265), (.415, .215), (.421, .225),
    (.421, .25), (.421, .205), (.427, .235), (.427, .26), (.427, .215), (.433, .245), (.433, .27), (.433, .22),
    (.439, .23), (.439, .255), (.439, .21), (.445, .24), (.445, .265), (.445, .215), (.451, .25), (.451, .275),
    (.451, .225), (.457, .235), (.457, .26), (.457, .215), (.463, .245), (.463, .27), (.463, .22), (.469, .23),
    (.469, .255), (.469, .21), (.475, .24), (.475, .265), (.475, .22), (.481, .25), (.481, .275), (.481, .225),
    (.487, .235), (.487, .26), (.487, .215), (.493, .245), (.493, .27), (.493, .22), (.499, .23), (.499, .255),
    (.499, .21), (.505, .24), (.505, .265), (.505, .22), (.511, .25), (.511, .275), (.511, .225), (.517, .235),
    (.517, .26), (.517, .215), (.523, .245), (.523, .27), (.523, .22), (.529, .23), (.529, .255), (.529, .21),
    (.535, .24), (.535, .265), (.535, .22), (.541, .25), (.541, .275), (.541, .225), (.547, .235), (.547, .26),
    (.547, .215), (.553, .245), (.553, .27), (.553, .22), (.559, .23), (.559, .255), (.559, .21), (.565, .24),
    (.565, .265), (.565, .22), (.571, .25), (.571, .275), (.571, .225), (.577, .235), (.577, .26), (.577, .215),
    (.583, .245), (.583, .27), (.583, .22), (.589, .23), (.589, .255), (.589, .21), (.595, .24), (.595, .265),
    (.595, .22), (.599, .25), (.599, .225), (.599, .235),
    (.047, .208), (.194, .268), (.215, .275), (.43, .29), (.5, .285), (.55, .295), (.57, .29), (.38, .28),
    (.32, .275), (.45, .19), (.52, .185), (.3, .185), (.26, .18), (.6, .26),
    (.154, .187), (.154, .212), (.16, .197), (.16, .22), (.166, .182), (.166, .207), (.172, .195), (.172, .22),
    (.178, .202), (.178, .227), (.184, .19), (.184, .212), (.19, .2), (.19, .222), (.196, .207), (.196, .232),
    (.202, .195), (.202, .217), (.208, .205), (.208, .227), (.214, .212), (.214, .237), (.22, .2), (.22, .222),
    (.226, .21), (.226, .232), (.232, .217), (.232, .24), (.238, .205), (.238, .227), (.244, .215), (.244, .237),
    (.25, .222), (.25, .247), (.256, .21), (.256, .232), (.262, .22), (.262, .242), (.268, .205), (.268, .227),
    (.274, .215), (.274, .237), (.28, .222), (.28, .247), (.286, .21), (.286, .232), (.292, .22), (.292, .242),
    (.298, .227), (.298, .252), (.304, .215), (.304, .237), (.31, .225), (.31, .247), (.316, .21), (.316, .232),
    (.322, .22), (.322, .242), (.328, .227), (.328, .252), (.334, .215), (.334, .237), (.34, .225), (.34, .247),
    (.346, .232), (.346, .257), (.352, .22), (.352, .242), (.358, .23), (.358, .252), (.364, .215), (.364, .237),
    (.37, .225), (.37, .247), (.376, .232), (.376, .257), (.382, .22), (.382, .242), (.388, .227), (.388, .252),
    (.394, .215), (.394, .237), (.4, .225), (.4, .247), (.406, .232), (.406, .257), (.412, .22), (.412, .242),
    (.418, .227), (.418, .252), (.424, .215), (.424, .237), (.43, .225), (.43, .247), (.436, .232), (.436, .257),
    (.442, .22), (.442, .242), (.448, .227), (.448, .252), (.454, .237), (.454, .262), (.46, .225), (.46, .247),
    (.466, .232), (.466, .257), (.472, .22), (.472, .242), (.478, .23), (.478, .252), (.484, .237), (.484, .262),
    (.49, .225), (.49, .247), (.496, .232), (.496, .257), (.502, .22), (.502, .242), (.508, .23), (.508, .252),
    (.514, .237), (.514, .262), (.52, .225), (.52, .247), (.526, .232), (.526, .257), (.532, .22), (.532, .242),
    (.538, .23), (.538, .252), (.544, .237), (.544, .262), (.55, .225), (.55, .247), (.556, .232), (.556, .257),
    (.562, .22), (.562, .242), (.568, .23), (.568, .252), (.574, .237), (.574, .262), (.58, .225), (.58, .247),
    (.586, .232), (.586, .257), (.592, .22), (.592, .242), (.597, .23), (.597, .252),
]

panels = [
    (titles[0], tivoli_multi, tivoli_cwi, (0, 0.6), 0.52),
    (titles[1], westerly_multi, westerly_cwi, (0, 0.6), 0.49),
    (titles[2], copp_multi, copp_cwi, (-0.024, 0.6), 0.473),
]
rects = [
    [0.0888, 0.1351, 0.2066, 0.7477],
    [0.4207, 0.1351, 0.2069, 0.7477],
    [0.7620, 0.1351, 0.2075, 0.7477],
]

fig = plt.figure(figsize=(9.61, 4.44), dpi=100)

for i, (title, multi, cwi, xlim, xlab_x) in enumerate(panels):
    ax = fig.add_axes(rects[i])
    mx, my = np.array(multi).T
    cx, cy = np.array(cwi).T
    ax.scatter(mx, my, s=11, color=BLUE, linewidths=0, label=series_names[0])
    ax.scatter(cx, cy, s=11, color=ORANGE, linewidths=0, label=series_names[1])
    ax.plot(true_sep, true_sep, color='black', lw=2.3, dashes=(4, 2.6), label=series_names[2])

    ax.set_xlim(*xlim)
    ax.set_ylim(0, 1)
    for side in ['top', 'right']:
        ax.spines[side].set_visible(False)
    for side in ['left', 'bottom']:
        ax.spines[side].set_color(GREY)
        ax.spines[side].set_linewidth(0.8)
    ax.tick_params(direction='in', length=4, width=0.8, colors=GREY, labelsize=13.5, pad=7)
    ax.set_xticks(xticks)
    ax.set_xticklabels(xticklabels)
    ax.set_yticks(yticks)
    ax.set_yticklabels(yticklabels)

    ax.text(0.44, 1.075, title, transform=ax.transAxes, ha='center', va='baseline',
            fontsize=15.5, fontweight='bold', color='black')
    ax.text(xlab_x, -0.15, xlabel, transform=ax.transAxes, ha='center', va='center',
            fontsize=15.3, color=GREY)

    if i == 0:
        ax.text(-0.32, 0.5, ylabel, transform=ax.transAxes, rotation=90, ha='center', va='center',
                fontsize=15.3, color=GREY)
        leg = ax.legend(loc='upper left', bbox_to_anchor=(0, 1), borderaxespad=0, fontsize=8.3,
                        frameon=True, fancybox=False, edgecolor=GREY, framealpha=1,
                        handlelength=2.0, handletextpad=0.6, borderpad=0.35, labelspacing=0.3)
        leg.get_frame().set_linewidth(0.6)

fig.savefig('out.png', dpi=100)
